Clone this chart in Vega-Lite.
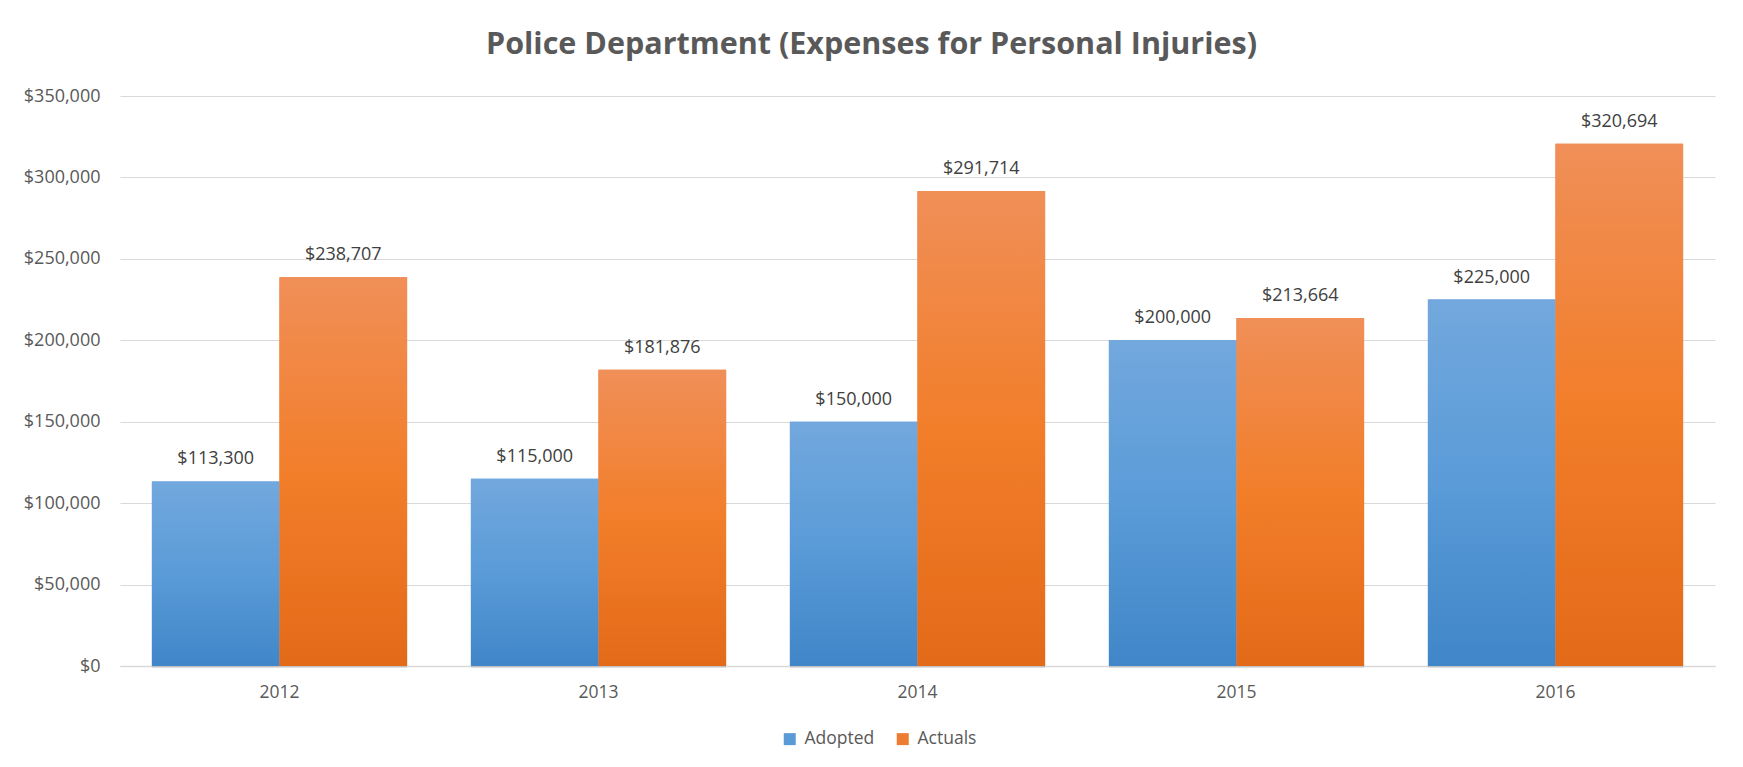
{
  "$schema": "https://vega.github.io/schema/vega-lite/v6.json",
  "autosize": {"type": "none"},
  "width": 1595,
  "height": 570,
  "padding": {"left": 120, "top": 96, "right": 28, "bottom": 101},
  "background": "white",
  "config": {"view": {"stroke": null}},
  "title": {
    "text": "Police Department (Expenses for Personal Injuries)",
    "font": "Open Sans",
    "fontSize": 30.5,
    "fontWeight": "bold",
    "color": "#595959",
    "anchor": "middle",
    "dx": -46,
    "baseline": "middle",
    "offset": 12
  },
  "data": {
    "values": [
      {"year": "2012", "series": "Adopted", "value": 113300},
      {"year": "2012", "series": "Actuals", "value": 238707},
      {"year": "2013", "series": "Adopted", "value": 115000},
      {"year": "2013", "series": "Actuals", "value": 181876},
      {"year": "2014", "series": "Adopted", "value": 150000},
      {"year": "2014", "series": "Actuals", "value": 291714},
      {"year": "2015", "series": "Adopted", "value": 200000},
      {"year": "2015", "series": "Actuals", "value": 213664},
      {"year": "2016", "series": "Adopted", "value": 225000},
      {"year": "2016", "series": "Actuals", "value": 320694}
    ]
  },
  "encoding": {
    "x": {
      "field": "year",
      "type": "nominal",
      "scale": {"paddingInner": 0.2, "paddingOuter": 0.1},
      "axis": {
        "title": null,
        "labelAngle": 0,
        "labelFont": "Open Sans",
        "labelFontSize": 17.5,
        "labelColor": "#595959",
        "labelPadding": 17,
        "ticks": false,
        "domainColor": "#d9d9d9",
        "domainWidth": 1.5,
        "grid": false
      }
    },
    "xOffset": {"field": "series", "type": "nominal", "sort": ["Adopted", "Actuals"]},
    "y": {
      "field": "value",
      "type": "quantitative",
      "scale": {"domain": [0, 350000]},
      "axis": {
        "title": null,
        "values": [0, 50000, 100000, 150000, 200000, 250000, 300000, 350000],
        "format": "$,.0f",
        "labelFont": "Open Sans",
        "labelFontSize": 18,
        "labelColor": "#595959",
        "labelPadding": 20,
        "ticks": false,
        "domain": false,
        "gridColor": "#d9d9d9",
        "gridWidth": 1.2
      }
    }
  },
  "layer": [
    {
      "mark": {"type": "bar", "color": "#000000", "opacity": 0.1, "xOffset": 3, "yOffset": 2},
      "encoding": {}
    },
    {
      "mark": {"type": "bar"},
      "encoding": {
        "color": {
          "field": "series",
          "type": "nominal",
          "sort": ["Adopted", "Actuals"],
          "scale": {"domain": ["Adopted", "Actuals"], "range": ["#5b9bd5", "#ed7d31"]},
          "legend": {
            "title": null,
            "orient": "none",
            "direction": "horizontal",
            "legendX": 661,
            "legendY": 634,
            "symbolType": "square",
            "symbolSize": 144,
            "symbolStrokeWidth": 0,
            "labelFont": "Open Sans",
            "labelFontSize": 17.5,
            "labelColor": "#595959",
            "labelOffset": 6,
            "columnPadding": 19
          }
        }
      }
    },
    {
      "transform": [{"filter": "datum.series === 'Adopted'"}],
      "mark": {
        "type": "bar",
        "color": {"gradient": "linear", "x1": 0, "y1": 0, "x2": 0, "y2": 1,
          "stops": [{"offset": 0, "color": "#72a8dd"}, {"offset": 0.5, "color": "#5a9bd8"}, {"offset": 1, "color": "#4086c8"}]}
      },
      "encoding": {}
    },
    {
      "transform": [{"filter": "datum.series === 'Actuals'"}],
      "mark": {
        "type": "bar",
        "color": {"gradient": "linear", "x1": 0, "y1": 0, "x2": 0, "y2": 1,
          "stops": [{"offset": 0, "color": "#f08f58"}, {"offset": 0.5, "color": "#f27e2a"}, {"offset": 1, "color": "#e36a18"}]}
      },
      "encoding": {}
    },
    {
      "mark": {"type": "text", "dy": -22, "baseline": "middle", "font": "Open Sans", "fontSize": 18, "color": "#404040"},
      "encoding": {
        "text": {"field": "value", "type": "quantitative", "format": "$,.0f"}
      }
    }
  ]
}
